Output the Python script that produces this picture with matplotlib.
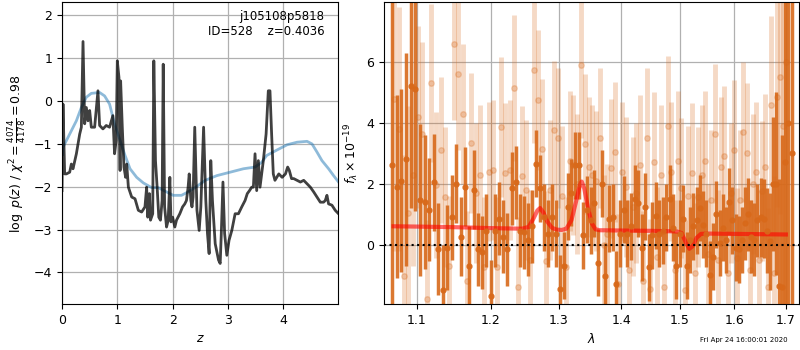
import matplotlib
matplotlib.use('Agg')
import matplotlib.pyplot as plt
from matplotlib.ticker import FixedLocator, FixedFormatter, NullLocator

plt.rcParams['font.size'] = 9

# ---- p(z) panel ----
z_pz = [0.00, 0.018, 0.048, 0.079, 0.139, 0.169, 0.199, 0.26, 0.29, 0.32, 0.35, 0.38, 0.41, 0.44,
        0.47, 0.50, 0.53, 0.59, 0.65, 0.68, 0.74, 0.80, 0.86, 0.92, 0.95, 0.98, 1.00, 1.03, 1.05,
        1.06, 1.09, 1.12, 1.15, 1.17, 1.20, 1.26, 1.32, 1.38, 1.44, 1.50, 1.53, 1.55, 1.58, 1.60,
        1.64, 1.66, 1.69, 1.72, 1.75, 1.78, 1.81, 1.83, 1.855, 1.89, 1.92, 1.95, 1.97, 2.00, 2.04,
        2.07, 2.13, 2.18, 2.22, 2.25, 2.28, 2.30, 2.33, 2.35, 2.37, 2.40, 2.44, 2.48, 2.51, 2.56,
        2.60, 2.63, 2.66, 2.69, 2.72, 2.77, 2.83, 2.86, 2.88, 2.91, 2.94, 2.98, 3.02, 3.07, 3.13,
        3.19, 3.25, 3.31, 3.35, 3.39, 3.43, 3.46, 3.49, 3.52, 3.55, 3.58, 3.64, 3.69, 3.73, 3.76,
        3.79, 3.82, 3.85, 3.92, 3.98, 4.04, 4.08, 4.11, 4.15, 4.19, 4.25, 4.31, 4.37, 4.43, 4.49,
        4.55, 4.61, 4.67, 4.73, 4.76, 4.79, 4.82, 4.88, 4.94, 5.00]
logp = [-2.09, -0.07, -1.70, -1.70, -1.66, -1.47, -1.58, -1.23, -1.00, -0.77, -0.61, 1.39, -0.53, -0.15,
        -0.46, -0.22, -0.61, -0.61, 0.24, -0.57, -0.65, -0.57, -0.61, -0.34, -1.23, -0.92, 0.94, 0.55, -1.62,
        0.47, -0.61, -1.54, -1.78, -1.47, -2.01, -2.24, -2.28, -2.55, -2.59, -2.47, -2.01, -2.71, -2.16, -2.78,
        -2.63, 0.94, -1.39, -2.01, -2.71, -2.78, -2.32, 0.86, -2.47, -2.94, -2.78, -1.78, -2.82, -2.71, -2.94,
        -2.78, -2.63, -2.47, -2.40, -2.32, -2.01, -1.70, -2.32, -2.47, -2.24, -0.61, -2.55, -3.02, -2.47, -0.61,
        -2.32, -3.09, -3.56, -1.39, -2.32, -3.33, -3.71, -3.79, -3.09, -1.89, -3.09, -3.60, -3.25, -3.02, -2.63,
        -2.63, -2.47, -2.32, -2.16, -2.09, -2.01, -2.01, -1.23, -2.09, -1.39, -2.01, -1.39, -0.77, 0.24, 0.24,
        -0.77, -1.70, -1.85, -1.70, -1.78, -1.70, -1.54, -1.62, -1.81, -1.81, -1.85, -1.89, -1.85, -1.93, -2.01,
        -2.12, -2.24, -2.36, -2.36, -2.32, -2.20, -2.40, -2.43, -2.55, -2.63]

z_chi = [0.01, 0.018, 0.139, 0.26, 0.35, 0.44, 0.53, 0.68, 0.77, 0.86, 0.95, 1.05, 1.14, 1.23, 1.35,
         1.47, 1.62, 1.74, 1.89, 2.01, 2.16, 2.28, 2.44, 2.59, 2.80, 3.04, 3.28, 3.49, 3.61, 3.70,
         3.89, 4.07, 4.25, 4.43, 4.52, 4.61, 4.70, 4.82, 4.91, 5.00]
chi_scaled = [-1.25, -1.08, -0.77, -0.46, -0.15, 0.09, 0.18, 0.20, 0.12, -0.07, -0.53, -0.92, -1.27, -1.58, -1.78,
              -1.91, -2.02, -2.02, -2.12, -2.20, -2.20, -2.12, -1.99, -1.85, -1.74, -1.66, -1.58, -1.54, -1.43, -1.27,
              -1.14, -1.02, -0.96, -0.94, -1.00, -1.19, -1.39, -1.58, -1.74, -1.89]

# ---- spectrum panel ----
wave_a = [1.068, 1.074, 1.080, 1.086, 1.092, 1.098, 1.104, 1.110, 1.116, 1.122, 1.128, 1.134, 1.140, 1.146,
          1.152, 1.158, 1.164, 1.170, 1.176, 1.182, 1.188, 1.194, 1.200, 1.206, 1.212, 1.218, 1.224, 1.230,
          1.236, 1.242, 1.248, 1.254, 1.260, 1.266, 1.272, 1.278, 1.284, 1.290, 1.296, 1.302, 1.308, 1.314,
          1.320, 1.326, 1.332, 1.338, 1.344, 1.350, 1.356, 1.362, 1.368, 1.374, 1.380, 1.386, 1.392, 1.398,
          1.404, 1.410, 1.416, 1.422, 1.428, 1.434, 1.440, 1.446, 1.452, 1.458, 1.464, 1.470, 1.476, 1.482,
          1.488, 1.494, 1.500, 1.506, 1.512, 1.518, 1.524, 1.530, 1.536, 1.542, 1.548, 1.554, 1.560, 1.566,
          1.572, 1.578, 1.584, 1.590, 1.596, 1.602, 1.608, 1.614, 1.620, 1.626, 1.632, 1.638, 1.644, 1.650,
          1.656, 1.662, 1.668, 1.674, 1.680, 1.686, 1.692, 1.698, 1.704, 1.712]
flux_a = [2.6, 1.9, 2.1, 2.8, 5.2, 5.1, 1.45, 1.4, 1.15, 2.05, -0.15, -1.5, -0.1, 0.9,
          2.0, 0.25, 1.9, -0.7, 1.8, -0.15, -0.25, 0.45, -1.7, 0.45, 0.85, 0.25, -0.15, 1.85,
          2.05, 0.45, 0.4, 0.15, 0.6, 2.65, 1.85, 0.9, 0.35, 0.9, 0.35, -1.45, -0.7, 1.25,
          1.7, 2.6, 2.6, 0.3, 1.15, 0.8, 1.35, -0.6, 2.0, -1.05, 0.85, 0.9, -1.3, 0.35,
          1.15, 0.35, 0.6, 1.5, 1.35, -0.1, 1.25, -0.75, 0.3, 0.95, 0.35, 0.45, 0.9, 1.5,
          0.55, -0.7, 0.35, 0.85, -0.7, 0.15, 0.6, 0.8, 1.2, 0.65, 0.35, -1.0, -0.4, 1.0,
          0.05, 0.55, 0.15, 1.4, 0.8, -0.1, -0.15, 0.15, 0.7, 1.0, 0.25, 0.15, 0.8, 0.9,
          0.85, 0.45, 0.1, 2.0, 2.0, -1.35, -1.4, 2.7, 4.0, 3.0]
err_a = [8, 3, 3, 3.5, 4, 4, 2.5, 2.2, 1.7, 1.6, 1.5, 1.5, 1.4, 1.4,
         1.3, 1.3, 1.3, 1.3, 1.3, 1.2, 1.2, 1.2, 1.2, 1.2, 1.2, 1.2, 1.2, 1.2,
         1.2, 1.2, 1.2, 1.2, 1.2, 1.1, 1.1, 1.1, 1.1, 1.1, 1.1, 1.1, 1.1, 1.1,
         1.1, 1.1, 1.1, 1.1, 1.1, 1.1, 1.1, 1.1, 1.1, 1.1, 1.1, 1.1, 1.1, 1.1,
         1.1, 1.1, 1.1, 1.1, 1.1, 1.1, 1.1, 1.1, 1.1, 1.1, 1.1, 1.1, 1.1, 1.1,
         1.1, 1.1, 1.1, 1.1, 1.1, 1.1, 1.1, 1.1, 1.1, 1.1, 1.1, 1.1, 1.1, 1.1,
         1.1, 1.1, 1.1, 1.1, 1.1, 1.1, 1.1, 1.1, 1.2, 1.2, 1.2, 1.2, 1.2, 1.3,
         1.3, 1.4, 1.6, 2.2, 3.0, 3.5, 5, 7, 10, 12]

wave_b = [1.071, 1.077, 1.083, 1.089, 1.095, 1.101, 1.107, 1.113, 1.119, 1.125, 1.131, 1.137, 1.143, 1.149,
          1.155, 1.161, 1.167, 1.173, 1.179, 1.185, 1.191, 1.197, 1.203, 1.209, 1.215, 1.221, 1.227, 1.233,
          1.239, 1.245, 1.251, 1.257, 1.263, 1.269, 1.275, 1.281, 1.287, 1.293, 1.299, 1.305, 1.311, 1.317,
          1.323, 1.329, 1.335, 1.341, 1.347, 1.353, 1.359, 1.365, 1.371, 1.377, 1.383, 1.389, 1.395, 1.401,
          1.407, 1.413, 1.419, 1.425, 1.431, 1.437, 1.443, 1.449, 1.455, 1.461, 1.467, 1.473, 1.479, 1.485,
          1.491, 1.497, 1.503, 1.509, 1.515, 1.521, 1.527, 1.533, 1.539, 1.545, 1.551, 1.557, 1.563, 1.569,
          1.575, 1.581, 1.587, 1.593, 1.599, 1.605, 1.611, 1.617, 1.623, 1.629, 1.635, 1.641, 1.647, 1.653,
          1.659, 1.665, 1.671, 1.677, 1.683, 1.689, 1.695, 1.701]
flux_b = [4.8, 3.8, -1.05, 1.05, 2.3, 4.2, 3.65, -1.8, 5.3, 1.95, 3.1, 1.55, -0.7, 6.6,
          5.6, 4.3, -1.2, 3.35, 1.7, 2.3, -0.75, 2.4, 2.45, -0.75, 3.85, 2.35, 2.45, 5.15,
          -1.4, 2.25, 1.8, -0.5, 5.75, 4.75, 3.15, -0.55, 1.8, 3.75, 3.5, 1.6, -0.75, 2.75,
          2.6, 2.0, 5.9, 3.3, 2.55, 2.3, 2.1, 3.5, 0.0, 0.35, 2.5, 3.05, -1.3, 2.4,
          1.9, -0.85, 1.25, 1.7, 2.6, -1.2, 3.5, -1.45, 2.7, -0.4, 2.3, -1.4, 3.9, 2.4,
          -0.85, 2.75, 1.85, -1.5, 1.6, 2.35, -0.95, 1.55, 2.3, 2.75, -0.3, 1.45, 3.65, -0.5,
          2.55, 2.9, -0.95, 1.7, 3.1, -0.45, 1.45, 3.7, 3.0, -0.85, 2.0, 2.4, -0.5, 1.75,
          2.55, -1.4, 4.6, -0.95, 4.85, 5.5, 3.9, 6.0]
err_b = [5, 4, 4, 3.5, 3, 3, 3, 2.6, 2.6, 2.4, 2.4, 2.3, 2.3, 2.5,
         2.5, 2.3, 2.3, 2.3, 2.3, 2.3, 2.3, 2.3, 2.3, 2.3, 2.3, 2.3, 2.3, 2.4,
         2.3, 2.3, 2.3, 2.3, 2.4, 2.3, 2.3, 2.3, 2.3, 2.3, 2.3, 2.3, 2.3, 2.3,
         2.3, 2.3, 2.4, 2.3, 2.3, 2.3, 2.3, 2.3, 2.3, 2.3, 2.3, 2.3, 2.3, 2.3,
         2.3, 2.3, 2.3, 2.3, 2.3, 2.3, 2.3, 2.3, 2.3, 2.3, 2.3, 2.3, 2.3, 2.3,
         2.3, 2.3, 2.3, 2.3, 2.3, 2.3, 2.3, 2.3, 2.3, 2.3, 2.3, 2.3, 2.3, 2.3,
         2.3, 2.3, 2.3, 2.3, 2.3, 2.3, 2.3, 2.3, 2.3, 2.3, 2.3, 2.3, 2.3, 2.3,
         2.4, 2.6, 2.9, 3.2, 3.6, 4.5, 6, 9]

wave_model = [1.070, 1.10, 1.15, 1.20, 1.245, 1.255, 1.262, 1.268, 1.272, 1.277, 1.283, 1.290, 1.297,
              1.305, 1.312, 1.320, 1.327, 1.333, 1.336, 1.340, 1.346, 1.352, 1.358, 1.365, 1.40, 1.45,
              1.495, 1.503, 1.510, 1.517, 1.523, 1.530, 1.538, 1.55, 1.60, 1.65, 1.70]
flux_model = [0.60, 0.59, 0.57, 0.54, 0.52, 0.58, 0.85, 1.12, 1.20, 1.05, 0.75, 0.55, 0.49,
              0.48, 0.52, 0.80, 1.40, 1.95, 2.07, 1.85, 1.20, 0.70, 0.50, 0.47, 0.46, 0.45,
              0.43, 0.38, 0.10, -0.14, -0.05, 0.22, 0.35, 0.36, 0.35, 0.34, 0.33]

orange = '#d8691a'

fig = plt.figure(figsize=(8, 3.5), dpi=100)
ax1 = fig.add_axes([0.0775, 0.131, 0.345, 0.863])
ax2 = fig.add_axes([0.48, 0.131, 0.519, 0.863])

ax1.plot(z_chi, chi_scaled, color='tab:blue', alpha=0.5, lw=2)
ax1.plot(z_pz, logp, color='k', alpha=0.75, lw=2)
ax1.set_xlim(0, 4.99)
ax1.set_ylim(-4.74, 2.31)
ax1.set_xticks([0, 1, 2, 3, 4])
ax1.set_yticks([-4, -3, -2, -1, 0, 1, 2])
ax1.grid(color='#b0b0b0', lw=0.9)
ax1.set_xlabel(r'$z$')
ax1.set_ylabel(r'$\log\ p(z)$ / $\chi^2=\frac{4074}{4178}=0.98$')
ax1.text(0.95, 0.975, 'j105108p5818\nID=528    z=0.4036', transform=ax1.transAxes,
         ha='right', va='top', fontsize=8.5, linespacing=1.25)

ax2.errorbar(wave_b, flux_b, yerr=err_b, color=orange, alpha=0.25, marker='o', ms=4,
             linestyle='none', elinewidth=3.5)
ax2.errorbar(wave_a, flux_a, yerr=err_a, color=orange, alpha=0.9, marker='o', ms=3.5,
             linestyle='none', elinewidth=2.5)
ax2.plot(wave_model, flux_model, color='r', alpha=0.6, lw=3)
ax2.axhline(0, color='k', ls=':', lw=1.5)
ax2.set_xscale('log')
ax2.set_xlim(1.058, 1.727)
ax2.set_ylim(-1.96, 7.97)
xt = [1.1, 1.2, 1.3, 1.4, 1.5, 1.6, 1.7]
ax2.xaxis.set_major_locator(FixedLocator(xt))
ax2.xaxis.set_major_formatter(FixedFormatter(['%.1f' % v for v in xt]))
ax2.xaxis.set_minor_locator(NullLocator())
ax2.set_yticks([0, 2, 4, 6])
ax2.grid(color='#b0b0b0', lw=0.9)
ax2.set_xlabel(r'$\lambda$')
ax2.set_ylabel(r'$f_\lambda\times10^{-19}$')

fig.text(0.984, 0.028, 'Fri Apr 24 16:00:01 2020', ha='right', va='center', fontsize=5)

fig.savefig('out.png', dpi=100)
